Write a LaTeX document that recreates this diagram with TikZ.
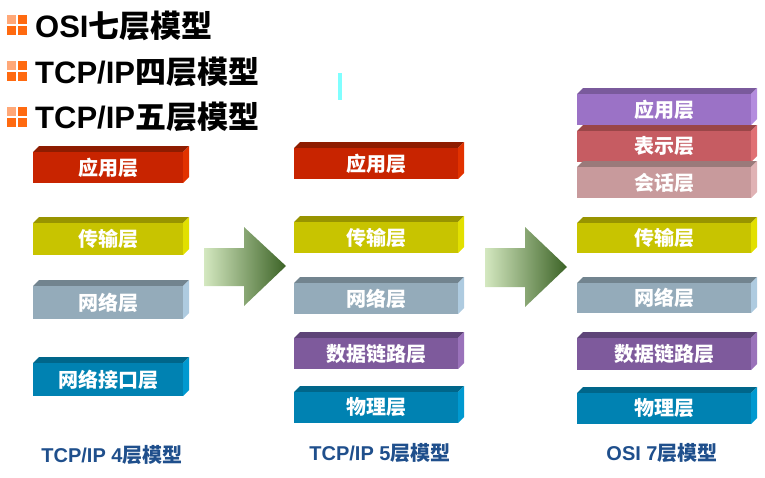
\documentclass[tikz,border=0pt]{standalone}
\usepackage{fontspec}
\setmainfont{Liberation Sans}
\newfontfamily\cjk{Noto Sans CJK SC}
\usepackage{tikz}

\newcommand{\zh}[1]{{\cjk #1}}

% front / top / side colours of the layers
\definecolor{redF}{HTML}{C82400}
\definecolor{redT}{HTML}{8E1C00}
\definecolor{redS}{HTML}{E23200}
\definecolor{yelF}{HTML}{C8C400}
\definecolor{yelT}{HTML}{989400}
\definecolor{yelS}{HTML}{E2E000}
\definecolor{gryF}{HTML}{94ABBA}
\definecolor{gryT}{HTML}{72848F}
\definecolor{gryS}{HTML}{AECBE0}
\definecolor{bluF}{HTML}{0082B2}
\definecolor{bluT}{HTML}{00668A}
\definecolor{bluS}{HTML}{0099D0}
\definecolor{purF}{HTML}{7E5A9C}
\definecolor{purT}{HTML}{5E4478}
\definecolor{purS}{HTML}{9A72BA}
\definecolor{lavF}{HTML}{9B72C6}
\definecolor{lavT}{HTML}{7A5A9C}
\definecolor{lavS}{HTML}{B48CDE}
\definecolor{rosF}{HTML}{C65C62}
\definecolor{rosT}{HTML}{9A4648}
\definecolor{rosS}{HTML}{E07074}
\definecolor{pnkF}{HTML}{C89A9C}
\definecolor{pnkT}{HTML}{9A7A7A}
\definecolor{pnkS}{HTML}{E0B2B4}
\definecolor{capblue}{HTML}{1F4F8C}
\definecolor{markA}{HTML}{FFA878}
\definecolor{markB}{HTML}{FF6A10}
\definecolor{arrowL}{HTML}{D4E8C0}
\definecolor{arrowR}{HTML}{3C6326}
\definecolor{cursor}{HTML}{80FFFF}

% name, x, y (front top), width, height, colour, text
\newcommand{\layerbox}[7]{%
  \fill[#6T] (#2,#3) -- ++(6,-6) -- ++(#4,0) -- ++(-6,6) -- cycle;
  \fill[#6S] (#2+#4,#3) -- ++(6,-6) -- ++(0,#5) -- ++(-6,6) -- cycle;
  \fill[#6F] (#2,#3) rectangle ++(#4,#5);
  \node[layertext] (#1) at (#2+#4/2,#3+#5/2) {#7};
}

\newcommand{\titlemark}[2]{%
  \fill[markA] (#1,#2) rectangle ++(9,9);
  \fill[markB] (#1+11,#2) rectangle ++(9,9);
  \fill[markB] (#1,#2+11) rectangle ++(9,9);
  \fill[markB] (#1+11,#2+11) rectangle ++(9,9);
}

\begin{document}
\begin{tikzpicture}[x=1pt, y=-1pt,
    layertext/.style={text=white, inner sep=0pt,
        font=\cjk\bfseries\fontsize{20}{20}\selectfont},
    title/.style={anchor=west, inner sep=0pt,
        font=\bfseries\fontsize{31}{31}\selectfont},
    caption/.style={text=capblue, inner sep=0pt,
        font=\bfseries\fontsize{20}{20}\selectfont}]
    \useasboundingbox (0,0) rectangle (765,477);

    % titles
    \titlemark{7}{15}
    \titlemark{7}{61}
    \titlemark{7}{107}
    \node[title] (osi) at (35,26) {OSI\zh{七层模型}};
    \node[title] (four) at (35,72) {TCP/IP\zh{四层模型}};
    \node[title] (five) at (35,117) {TCP/IP\zh{五层模型}};

    \fill[cursor] (338,73) rectangle (342,100);

    % TCP/IP 4 layers
    \layerbox{app4}{33}{152}{150}{31}{red}{应用层}
    \layerbox{trans4}{33}{223}{150}{32}{yel}{传输层}
    \layerbox{net4}{33}{286}{150}{33}{gry}{网络层}
    \layerbox{link4}{33}{363}{150}{33}{blu}{网络接口层}

    % TCP/IP 5 layers
    \layerbox{app5}{294}{148}{164}{31}{red}{应用层}
    \layerbox{trans5}{294}{222}{164}{31}{yel}{传输层}
    \layerbox{net5}{294}{283}{164}{31}{gry}{网络层}
    \layerbox{link5}{294}{338}{164}{31}{pur}{数据链路层}
    \layerbox{phy5}{294}{392}{164}{31}{blu}{物理层}

    % OSI 7 layers
    \layerbox{app7}{577}{94}{174}{31}{lav}{应用层}
    \layerbox{pre7}{577}{131}{174}{31}{ros}{表示层}
    \layerbox{ses7}{577}{167}{174}{31}{pnk}{会话层}
    \layerbox{trans7}{577}{223}{174}{30}{yel}{传输层}
    \layerbox{net7}{577}{283}{174}{30}{gry}{网络层}
    \layerbox{link7}{577}{338}{174}{32}{pur}{数据链路层}
    \layerbox{phy7}{577}{393}{174}{31}{blu}{物理层}

    % block arrows
    \shade[left color=arrowL, right color=arrowR]
        (204,248) -- (244,248) -- (244,227) -- (286,266)
        -- (244,306) -- (244,286) -- (204,286) -- cycle;
    \shade[left color=arrowL, right color=arrowR]
        (485,248) -- (525,248) -- (525,227) -- (567,267)
        -- (525,307) -- (525,287) -- (485,287) -- cycle;

    % captions
    \node[caption] (cap4) at (112,455) {TCP/IP 4\zh{层模型}};
    \node[caption] (cap5) at (380,453) {TCP/IP 5\zh{层模型}};
    \node[caption] (cap7) at (662,453) {OSI 7\zh{层模型}};
\end{tikzpicture}
\end{document}
